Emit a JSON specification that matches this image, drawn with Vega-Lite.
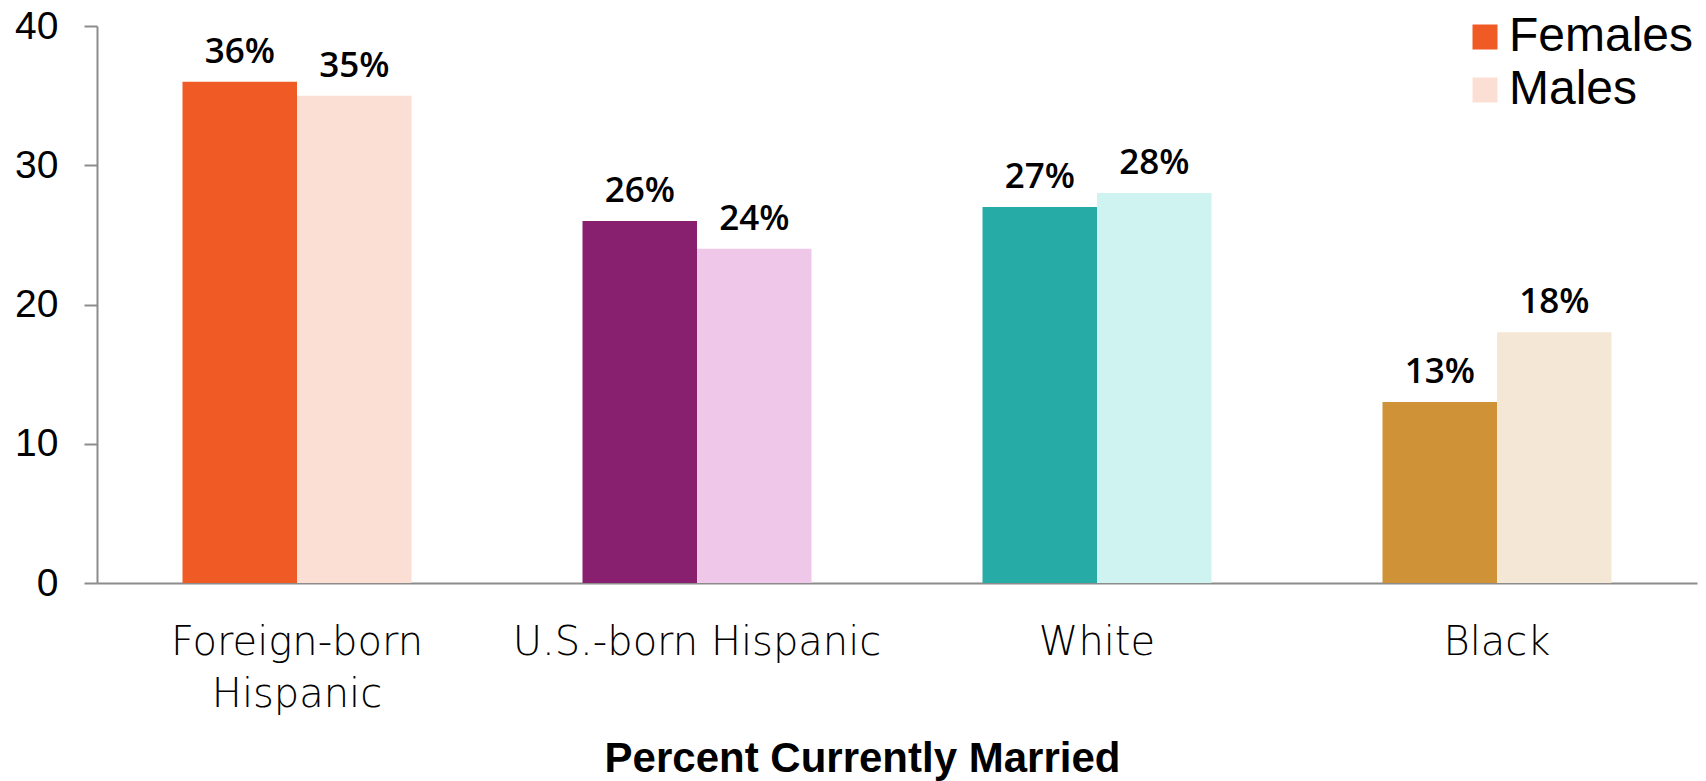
{
  "$schema": "https://vega.github.io/schema/vega-lite/v6.json",
  "width": 1600,
  "height": 557,
  "autosize": {"type": "none"},
  "padding": {"left": 97, "top": 26, "right": 9, "bottom": 198},
  "background": "white",
  "config": {"view": {"stroke": null}},
  "data": {
    "values": [
      {"group": "Foreign-born Hispanic", "sex": "Females", "series": "Foreign-born Hispanic Females", "value": 36},
      {"group": "Foreign-born Hispanic", "sex": "Males", "series": "Foreign-born Hispanic Males", "value": 35},
      {"group": "U.S.-born Hispanic", "sex": "Females", "series": "U.S.-born Hispanic Females", "value": 26},
      {"group": "U.S.-born Hispanic", "sex": "Males", "series": "U.S.-born Hispanic Males", "value": 24},
      {"group": "White", "sex": "Females", "series": "White Females", "value": 27},
      {"group": "White", "sex": "Males", "series": "White Males", "value": 28},
      {"group": "Black", "sex": "Females", "series": "Black Females", "value": 13},
      {"group": "Black", "sex": "Males", "series": "Black Males", "value": 18}
    ]
  },
  "encoding": {
    "x": {
      "field": "group",
      "type": "nominal",
      "sort": ["Foreign-born Hispanic", "U.S.-born Hispanic", "White", "Black"],
      "scale": {"paddingInner": 0.4275, "paddingOuter": 0.21375},
      "axis": {
        "title": "Percent Currently Married",
        "titleFont": "Liberation Sans",
        "titleFontSize": 42,
        "titleFontWeight": "bold",
        "titleColor": "black",
        "titleX": 765,
        "titleY": 188,
        "titleAlign": "center",
        "titleBaseline": "alphabetic",
        "labelAngle": 0,
        "labelFont": "DejaVu Sans",
        "labelFontWeight": 200,
        "labelFontSize": 40,
        "labelColor": "black",
        "labelPadding": 39,
        "labelLineHeight": 52,
        "labelLimit": 600,
        "labelExpr": "datum.label == 'Foreign-born Hispanic' ? ['Foreign-born', 'Hispanic'] : datum.label",
        "ticks": false,
        "domainColor": "#8c8c8c",
        "domainWidth": 2,
        "domainCap": "butt"
      }
    },
    "xOffset": {"field": "sex", "type": "nominal", "sort": ["Females", "Males"], "scale": {"paddingInner": 0, "paddingOuter": 0}},
    "y": {
      "field": "value",
      "type": "quantitative",
      "scale": {"domain": [0, 40], "nice": false},
      "axis": {
        "title": null,
        "values": [0, 10, 20, 30, 40],
        "grid": false,
        "labelFont": "Liberation Sans",
        "labelFontSize": 39,
        "labelColor": "black",
        "labelPadding": 26,
        "tickSize": 13,
        "tickColor": "#8c8c8c",
        "tickWidth": 2,
        "domainColor": "#8c8c8c",
        "domainWidth": 2
      }
    }
  },
  "layer": [
    {
      "mark": {"type": "bar"},
      "encoding": {
        "color": {
          "field": "series",
          "type": "nominal",
          "scale": {
            "domain": ["Foreign-born Hispanic Females", "Foreign-born Hispanic Males", "U.S.-born Hispanic Females", "U.S.-born Hispanic Males", "White Females", "White Males", "Black Females", "Black Males"],
            "range": ["#F05A24", "#FBDED4", "#88206F", "#EFC7E9", "#26ABA6", "#CEF3F1", "#CF9236", "#F4E7D5"]
          },
          "legend": {
            "title": null,
            "values": ["Foreign-born Hispanic Females", "Foreign-born Hispanic Males"],
            "labelExpr": "indexof(datum.label, 'Females') >= 0 ? 'Females' : 'Males'",
            "orient": "none",
            "legendX": 1364,
            "legendY": -13,
            "padding": 0,
            "symbolType": "square",
            "symbolSize": 625,
            "symbolStrokeWidth": 0,
            "labelFont": "Liberation Sans",
            "labelFontSize": 48,
            "labelColor": "black",
            "labelOffset": 0,
            "rowPadding": 5,
            "labelLimit": 400
          }
        }
      }
    },
    {
      "mark": {
        "type": "text",
        "font": "Open Sans",
        "fontSize": 35,
        "fontWeight": 600,
        "color": "black",
        "baseline": "alphabetic",
        "align": "center",
        "dy": -19,
        "text": {"expr": "datum.value + '%'"}
      }
    }
  ]
}
